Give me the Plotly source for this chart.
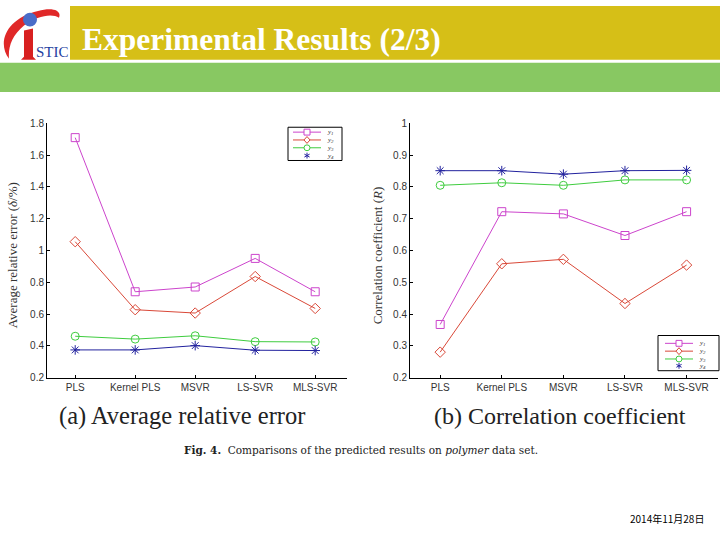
import plotly.graph_objects as go

W, H = 720, 540

methods = ["PLS", "Kernel PLS", "MSVR", "LS-SVR", "MLS-SVR"]
series_names = ["y<sub>1</sub>", "y<sub>2</sub>", "y<sub>3</sub>", "y<sub>4</sub>"]

# (a) Average relative error
err_y1 = [1.71, 0.74, 0.77, 0.95, 0.74]
err_y2 = [1.055, 0.627, 0.606, 0.836, 0.635]
err_y3 = [0.46, 0.442, 0.463, 0.426, 0.424]
err_y4 = [0.374, 0.374, 0.401, 0.372, 0.370]

# (b) Correlation coefficient
cor_y1 = [0.367, 0.722, 0.715, 0.647, 0.722]
cor_y2 = [0.280, 0.558, 0.572, 0.433, 0.554]
cor_y3 = [0.805, 0.813, 0.805, 0.822, 0.822]
cor_y4 = [0.851, 0.851, 0.840, 0.851, 0.852]

left_ticks = [0.2, 0.4, 0.6, 0.8, 1.0, 1.2, 1.4, 1.6, 1.8]
right_ticks = [0.2, 0.3, 0.4, 0.5, 0.6, 0.7, 0.8, 0.9, 1.0]

colors = ["#CC44CC", "#D94838", "#3FCC3F", "#22229E"]
symbols = ["square-open", "diamond-open", "circle-open", "asterisk-open"]


def X(px):
    return px / W


def Y(py):
    return 1 - py / H


def path(cmds, close=True):
    s = ""
    for cmd, pts in cmds:
        s += cmd + " " + " ".join(f"{X(a):.5f},{Y(b):.5f}" for a, b in pts) + " "
    return s.strip() + (" Z" if close else "")


fig = go.Figure()

xpos = list(range(1, len(methods) + 1))
for data, xa, ya in [
    ([err_y1, err_y2, err_y3, err_y4], "x", "y"),
    ([cor_y1, cor_y2, cor_y3, cor_y4], "x2", "y2"),
]:
    for i, vals in enumerate(data):
        fig.add_trace(go.Scatter(
            x=xpos, y=vals, mode="lines+markers", name=series_names[i],
            line=dict(color=colors[i], width=1),
            marker=dict(symbol=symbols[i], size=8, color=colors[i],
                        line=dict(color=colors[i], width=1)),
            xaxis=xa, yaxis=ya, showlegend=False,
        ))

axis_common = dict(
    showline=True, linecolor="black", linewidth=1, ticks="inside", ticklen=3,
    tickcolor="black", showgrid=False, zeroline=False,
    tickfont=dict(family="Liberation Sans, Arial", size=10, color="#333333"),
)

fig.update_layout(
    width=W, height=H, margin=dict(l=0, r=0, t=0, b=0),
    paper_bgcolor="white", plot_bgcolor="white", showlegend=False,
    xaxis=dict(domain=[X(47), X(347)], range=[0.53, 5.53], tickvals=xpos,
               ticktext=methods, anchor="y", **axis_common),
    yaxis=dict(domain=[Y(380), Y(120)], range=[0.2, 1.8], tickvals=left_ticks,
               anchor="x", **axis_common),
    xaxis2=dict(domain=[X(410), X(718)], range=[0.51, 5.51], tickvals=xpos,
                ticktext=methods, anchor="y2", **axis_common),
    yaxis2=dict(domain=[Y(380), Y(120)], range=[0.2, 1.0], tickvals=right_ticks,
                anchor="x2", **axis_common),
)

shapes = [
    # yellow title band
    dict(type="rect", x0=X(70), x1=X(720), y0=Y(55), y1=Y(0),
         fillcolor="#D6BF17", line=dict(width=0), layer="below"),
    # green band
    dict(type="rect", x0=X(0), x1=X(720), y0=Y(88), y1=Y(58),
         fillcolor="#88C862", line=dict(width=0), layer="below"),
    # logo swoosh
    dict(type="path",
         path=path([("M", [(9, 54)]), ("C", [(-4, 36), (8, 12), (38, 5)]),
                    ("C", [(52, 1), (62, 4), (59, 12)]),
                    ("C", [(52, 7), (37, 10), (24, 20)]),
                    ("C", [(12, 30), (8, 42), (9, 54)])]),
         fillcolor="#E02828", line=dict(width=0)),
    # logo "i" stem
    dict(type="path",
         path=path([("M", [(24, 25)]), ("L", [(33, 23)]), ("L", [(33, 52)]),
                    ("L", [(36, 55)]), ("L", [(21, 55)]), ("L", [(24, 52)])]),
         fillcolor="#D82020", line=dict(width=0)),
    # logo ball
    dict(type="circle", x0=X(23), x1=X(37), y0=Y(21), y1=Y(7),
         fillcolor="#4A6CC8", line=dict(width=0)),
]

annotations = [
    dict(text="STIC", x=X(34), y=Y(47), xanchor="left", yanchor="middle",
         font=dict(family="Liberation Serif", size=15, color="#2440A0")),
    dict(text="<b>Experimental Results (2/3)</b>", x=X(80), y=Y(34), xanchor="left",
         yanchor="middle", font=dict(family="Liberation Serif", size=31.5, color="white")),
    dict(text="Average relative error (<i>δ</i>/%)", x=X(12), y=Y(255), textangle=-90,
         xanchor="center", yanchor="middle",
         font=dict(family="Liberation Serif", size=13, color="#333333")),
    dict(text="Correlation coefficient (<i>R</i>)", x=X(377), y=Y(255), textangle=-90,
         xanchor="center", yanchor="middle",
         font=dict(family="Liberation Serif", size=13, color="#333333")),
    dict(text="(a) Average relative error", x=X(57), y=Y(419), xanchor="left",
         yanchor="middle", font=dict(family="Liberation Serif", size=24.5, color="#222222")),
    dict(text="(b) Correlation coefficient", x=X(432), y=Y(419), xanchor="left",
         yanchor="middle", font=dict(family="Liberation Serif", size=24, color="#222222")),
    dict(text="<b>Fig. 4.</b>  Comparisons of the predicted results on <i>polymer</i> data set.",
         x=X(361), y=Y(454), xanchor="center", yanchor="middle",
         font=dict(family="DejaVu Serif", size=10.5, color="#222222")),
    dict(text="2014年11月28日", x=X(706), y=Y(524), xanchor="right", yanchor="middle",
         font=dict(family="Noto Sans CJK SC", size=10, color="black")),
]


def add_legend(box, rows, line_x0, line_x1, label_x):
    x0, y0, x1, y1 = box
    shapes.append(dict(type="rect", x0=X(x0), x1=X(x1), y0=Y(y1), y1=Y(y0),
                       fillcolor="white", line=dict(color="black", width=1)))
    mx = (line_x0 + line_x1) / 2
    r = 3
    for i, ry in enumerate(rows):
        c = colors[i]
        if i < 3:
            shapes.append(dict(type="line", x0=X(line_x0), x1=X(line_x1), y0=Y(ry), y1=Y(ry),
                               line=dict(color=c, width=1)))
        if i == 0:
            shapes.append(dict(type="rect", x0=X(mx - r), x1=X(mx + r), y0=Y(ry + r), y1=Y(ry - r),
                               fillcolor="white", line=dict(color=c, width=1)))
        elif i == 1:
            shapes.append(dict(type="path",
                               path=path([("M", [(mx, ry - r - 0.5)]), ("L", [(mx + r, ry)]),
                                          ("L", [(mx, ry + r + 0.5)]), ("L", [(mx - r, ry)])]),
                               fillcolor="white", line=dict(color=c, width=1)))
        elif i == 2:
            shapes.append(dict(type="circle", x0=X(mx - r), x1=X(mx + r), y0=Y(ry + r), y1=Y(ry - r),
                               fillcolor="white", line=dict(color=c, width=1)))
        else:
            for (dx, dy) in [(0, r), (r * 0.87, r * 0.5), (r * 0.87, -r * 0.5)]:
                shapes.append(dict(type="line", x0=X(mx - dx), x1=X(mx + dx),
                                   y0=Y(ry - dy), y1=Y(ry + dy), line=dict(color=c, width=1)))
        annotations.append(dict(text=f"<i>{series_names[i]}</i>", x=X(label_x), y=Y(ry),
                                xanchor="left", yanchor="middle",
                                font=dict(family="Liberation Serif", size=7, color="#333333")))


add_legend((288, 124, 342, 158), [129, 137, 145, 153], 293, 321, 325)
add_legend((658, 337, 719, 373), [345, 353, 361, 368], 665, 693, 697)

for s in shapes:
    s.update(xref="paper", yref="paper")
for a in annotations:
    a.update(xref="paper", yref="paper", showarrow=False)
fig.update_layout(shapes=shapes, annotations=annotations)

fig.write_html("out.html", config={"displayModeBar": False},
               post_script="document.body.style.margin='0';")
